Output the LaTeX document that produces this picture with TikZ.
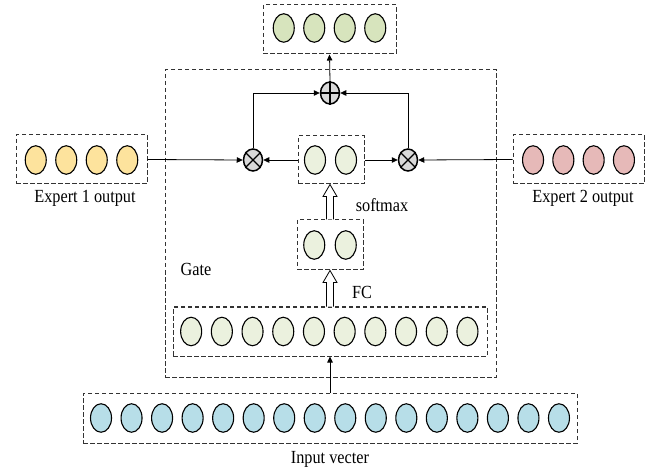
\documentclass[tikz,border=0pt]{standalone}
\usepackage{fontspec}
\setmainfont{Liberation Serif}[FakeStretch=0.88]
\usetikzlibrary{shapes.geometric,arrows.meta,calc}
\definecolor{outgreen}{HTML}{D7E4BD}
\definecolor{expyellow}{HTML}{FDE39D}
\definecolor{exppink}{HTML}{E6B9B8}
\definecolor{gatelight}{HTML}{EBF1DE}
\definecolor{inblue}{HTML}{B7DEE8}
\definecolor{opgray}{HTML}{D9D9D9}
\begin{document}
\begin{tikzpicture}[x=1pt,y=-1pt,
  unit/.style={ellipse, draw=black, line width=1.1pt, minimum width=21pt, minimum height=28.5pt, inner sep=0pt},
  frame/.style={draw=black!80, dash pattern=on 4.5pt off 2.5pt, line width=1pt, inner sep=0pt},
  opnode/.style={ellipse, draw=black, line width=1.5pt, fill=opgray, minimum width=19pt, minimum height=22pt, inner sep=0pt},
  conn/.style={line width=0.8pt, -{Triangle[length=6pt,width=5.5pt]}},
  hollow/.style={draw=black, line width=0.8pt, fill=white},
  lbl/.style={font=\fontsize{18.5}{20}\selectfont, inner sep=0pt}]
\useasboundingbox (0,0) rectangle (659,473);

% dashed frames
\node[frame, minimum width=331pt, minimum height=307pt] (gate) at (330.5,223.5) {};
\node[frame, minimum width=133pt, minimum height=49pt] (outbox) at (329.5,29.5) {};
\node[frame, minimum width=131pt, minimum height=49pt] (e1box) at (81.5,159.5) {};
\node[frame, minimum width=131pt, minimum height=49pt] (e2box) at (578.5,159.5) {};
\node[frame, minimum width=66pt, minimum height=48pt] (smbox) at (331,160) {};
\node[frame, minimum width=66pt, minimum height=50pt] (fcbox) at (330,245) {};
\node[frame, minimum width=314pt, minimum height=49pt] (hidbox) at (330,331.5) {};
\node[frame, minimum width=494pt, minimum height=50pt] (inbox) at (330,418) {};

% units
\foreach \i in {1,...,4} {
  \node[unit, fill=outgreen] (o\i) at ({329.5+(\i-2.5)*30.5},28) {};
  \node[unit, fill=expyellow] (a\i) at ({81.5+(\i-2.5)*30.5},160) {};
  \node[unit, fill=exppink] (b\i) at ({578.5+(\i-2.5)*30.3},160) {};
}
\foreach \i in {1,2} {
  \node[unit, fill=gatelight] (s\i) at ({330.5+(\i-1.5)*31},160) {};
  \node[unit, fill=gatelight] (f\i) at ({330+(\i-1.5)*31.5},245) {};
}
\foreach \i in {1,...,10}
  \node[unit, fill=gatelight] (h\i) at ({329.3+(\i-5.5)*30.7},331.5) {};
\foreach \i in {1,...,16}
  \node[unit, fill=inblue] (x\i) at ({330+(\i-8.5)*30.53},418) {};

% combination operators
\node[opnode] (mulL) at (253,160) {};
\node[opnode] (mulR) at (408,160) {};
\node[opnode] (add) at (330,93) {};
\foreach \n in {mulL,mulR} {
  \draw[line width=1.3pt] (\n.45) -- (\n.225) (\n.135) -- (\n.315);
}
\draw[line width=1.3pt] (add.north) -- (add.south) (add.west) -- (add.east);

% connectors
\draw[conn] (e1box.east) -- (mulL.west);
\draw[conn] (smbox.west) -- (mulL.east);
\draw[conn] (smbox.east) -- (mulR.west);
\draw[conn] (e2box.west) -- (mulR.east);
\draw[conn] (mulL.north) |- (add.west);
\draw[conn] (mulR.north) |- (add.east);
\draw[conn] (add.north) -- (outbox.south);
\draw[conn] (inbox.north) -- (hidbox.south);

% hollow arrows between gate layers
\draw[hollow] let \p1=(fcbox.north), \p2=(smbox.south) in
  (\x1-3.5pt,\y1) -- (\x1-3.5pt,\y2-12pt) -- (\x1-7pt,\y2-12pt) -- (\x1,\y2)
  -- (\x1+7pt,\y2-12pt) -- (\x1+3.5pt,\y2-12pt) -- (\x1+3.5pt,\y1);
\draw[hollow] let \p1=(hidbox.north), \p2=(fcbox.south) in
  (\x1-3.5pt,\y1) -- (\x1-3.5pt,\y2-12pt) -- (\x1-7pt,\y2-12pt) -- (\x1,\y2)
  -- (\x1+7pt,\y2-12pt) -- (\x1+3.5pt,\y2-12pt) -- (\x1+3.5pt,\y1);

% labels
\node[lbl] (l1) at (85,198) {Expert 1 output};
\node[lbl] (l2) at (583,198) {Expert 2 output};
\node[lbl] (l3) at (382,205) {softmax};
\node[lbl] (l4) at (362,292) {FC};
\node[lbl] (l5) at (196,269) {Gate};
\node[lbl] (l6) at (330,459) {Input vecter};
\end{tikzpicture}
\end{document}
